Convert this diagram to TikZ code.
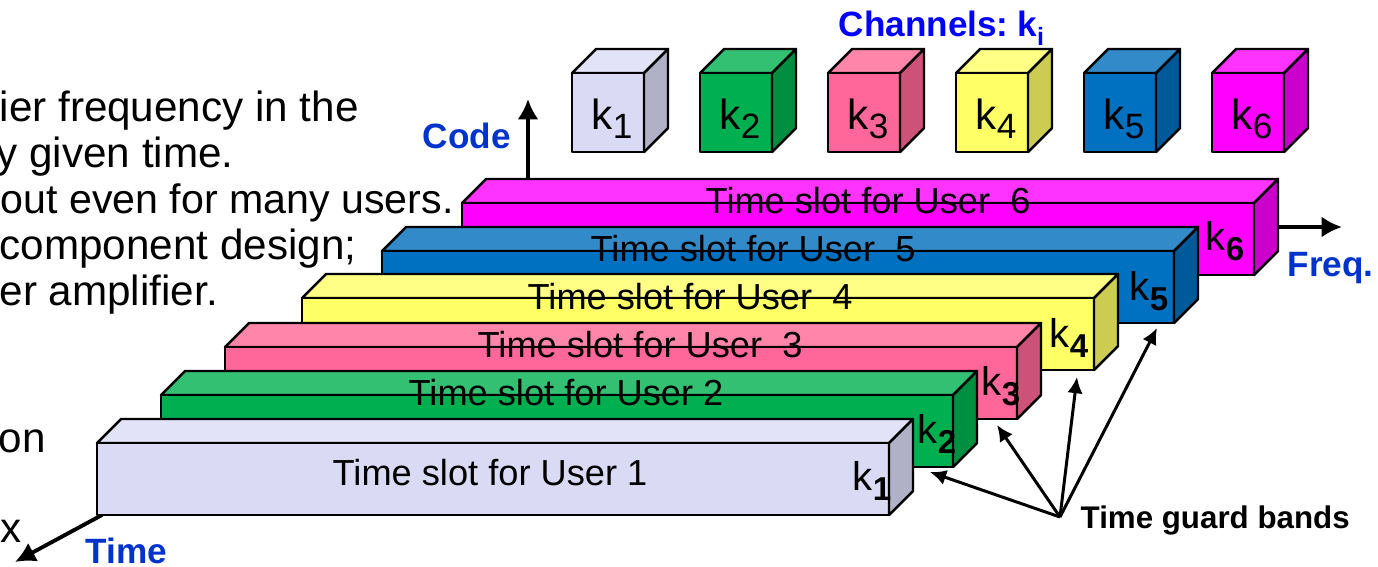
\documentclass[tikz,border=0pt]{standalone}
\usepackage{fontspec}
\setmainfont{Liberation Sans}
\usetikzlibrary{arrows.meta}

\definecolor{lavF}{RGB}{218,218,244}
\definecolor{lavT}{RGB}{226,226,248}
\definecolor{lavR}{RGB}{176,176,198}
\definecolor{grnF}{RGB}{0,176,80}
\definecolor{grnT}{RGB}{51,192,114}
\definecolor{grnR}{RGB}{0,142,64}
\definecolor{pnkF}{RGB}{255,102,153}
\definecolor{pnkT}{RGB}{255,133,170}
\definecolor{pnkR}{RGB}{204,82,122}
\definecolor{ylwF}{RGB}{255,255,102}
\definecolor{ylwT}{RGB}{255,255,133}
\definecolor{ylwR}{RGB}{204,204,82}
\definecolor{bluF}{RGB}{0,112,192}
\definecolor{bluT}{RGB}{51,138,200}
\definecolor{bluR}{RGB}{0,90,154}
\definecolor{magF}{RGB}{255,0,255}
\definecolor{magT}{RGB}{255,51,255}
\definecolor{magR}{RGB}{204,0,204}
\definecolor{axisblue}{RGB}{0,51,204}
\definecolor{chanblue}{RGB}{0,0,255}

\newcommand{\kcube}[1]{k\raisebox{-2.7pt}{\fontsize{10pt}{10pt}\selectfont #1}}
\newcommand{\kbar}[1]{k\raisebox{-3pt}{\fontsize{9.4pt}{10pt}\selectfont\bfseries #1}}

\begin{document}
\begin{tikzpicture}[x=0.01cm, y=-0.01cm,
    face/.style={draw=black, line width=0.7pt, line join=round},
    side/.style={anchor=base west, inner sep=0pt, font=\fontsize{12pt}{14pt}\selectfont},
    slot/.style={anchor=base west, inner sep=0pt, font=\fontsize{10.3pt}{12pt}\selectfont},
    klab/.style={anchor=base west, inner sep=0pt, font=\fontsize{11.4pt}{13pt}\selectfont},
    cubelab/.style={anchor=base west, inner sep=0pt, font=\fontsize{12pt}{13pt}\selectfont},
    axislab/.style={anchor=base west, inner sep=0pt, text=axisblue, font=\fontsize{10pt}{12pt}\selectfont\bfseries},
    axis/.style={line width=1.1pt, -{Latex[length=5.8pt,width=6pt]}},
    guard/.style={line width=0.85pt, -{Latex[length=4.6pt,width=4.4pt]}}]
    \useasboundingbox (0,0) rectangle (1378,566);
    \clip (0,0) rectangle (1378,566);

    \coordinate (C1) at (572,73);
    \coordinate (C2) at (700,73);
    \coordinate (C3) at (828,73);
    \coordinate (C4) at (956,73);
    \coordinate (C5) at (1084,73);
    \coordinate (C6) at (1212,73);
    \coordinate (B1) at (97,443);
    \coordinate (B2) at (161,395);
    \coordinate (B3) at (225,347);
    \coordinate (B4) at (302,298);
    \coordinate (B5) at (382,251);
    \coordinate (B6) at (462,203);
    \coordinate (codefoot) at (528,178);
    \coordinate (codetip) at (528,99);
    \coordinate (freqfoot) at (1278,227);
    \coordinate (freqtip) at (1342,227);
    \coordinate (timefoot) at (102,515);
    \coordinate (timetip) at (15,562);
    \coordinate (G) at (1060,517);
    \coordinate (G1) at (930,472);
    \coordinate (G2) at (997,425);
    \coordinate (G3) at (1077,377);
    \coordinate (G4) at (1157,328);

    % cut-off slide text on the left
    \node[side] (t1) at (-1,121) {ier frequency in the};
    \node[side] (t2) at (-4,167) {y given time.};
    \node[side, font=\fontsize{11.7pt}{14pt}\selectfont] (t3) at (0,213) {out even for many users.};
    \node[side] (t4) at (-1,259) {component design;};
    \node[side] (t5) at (-1,305) {er amplifier.};
    \node[side] (t6) at (-2,452) {on};
    \node[side] (t7) at (0,542) {x};

    % channel cubes
    \node[anchor=base west, inner sep=0pt, text=chanblue, font=\fontsize{10pt}{12pt}\selectfont\bfseries] (chan) at (838,36) {Channels:\hspace{0.25em}k\raisebox{-2.6pt}{\fontsize{7.1pt}{8pt}\selectfont i}};

    \draw[face, fill=lavT] (C1) -- ++(24,-24) -- ++(72,0) -- ++(-24,24) -- cycle;
    \draw[face, fill=lavF] (C1) rectangle ++(72,79);
    \draw[face, fill=lavR] (C1) ++(72,0) -- ++(24,-24) -- ++(0,79) -- ++(-24,24) -- cycle;
    \node[cubelab] (kc1) at (591,129) {\kcube{1}};

    \draw[face, fill=grnT] (C2) -- ++(24,-24) -- ++(72,0) -- ++(-24,24) -- cycle;
    \draw[face, fill=grnF] (C2) rectangle ++(72,79);
    \draw[face, fill=grnR] (C2) ++(72,0) -- ++(24,-24) -- ++(0,79) -- ++(-24,24) -- cycle;
    \node[cubelab] (kc2) at (719,129) {\kcube{2}};

    \draw[face, fill=pnkT] (C3) -- ++(24,-24) -- ++(72,0) -- ++(-24,24) -- cycle;
    \draw[face, fill=pnkF] (C3) rectangle ++(72,79);
    \draw[face, fill=pnkR] (C3) ++(72,0) -- ++(24,-24) -- ++(0,79) -- ++(-24,24) -- cycle;
    \node[cubelab] (kc3) at (847,129) {\kcube{3}};

    \draw[face, fill=ylwT] (C4) -- ++(24,-24) -- ++(72,0) -- ++(-24,24) -- cycle;
    \draw[face, fill=ylwF] (C4) rectangle ++(72,79);
    \draw[face, fill=ylwR] (C4) ++(72,0) -- ++(24,-24) -- ++(0,79) -- ++(-24,24) -- cycle;
    \node[cubelab] (kc4) at (975,129) {\kcube{4}};

    \draw[face, fill=bluT] (C5) -- ++(24,-24) -- ++(72,0) -- ++(-24,24) -- cycle;
    \draw[face, fill=bluF] (C5) rectangle ++(72,79);
    \draw[face, fill=bluR] (C5) ++(72,0) -- ++(24,-24) -- ++(0,79) -- ++(-24,24) -- cycle;
    \node[cubelab] (kc5) at (1103,129) {\kcube{5}};

    \draw[face, fill=magT] (C6) -- ++(24,-24) -- ++(72,0) -- ++(-24,24) -- cycle;
    \draw[face, fill=magF] (C6) rectangle ++(72,79);
    \draw[face, fill=magR] (C6) ++(72,0) -- ++(24,-24) -- ++(0,79) -- ++(-24,24) -- cycle;
    \node[cubelab] (kc6) at (1231,129) {\kcube{6}};

    % axes
    \draw[axis] (codefoot) -- (codetip);
    \node[axislab] (code) at (422,148) {Code};
    \draw[axis] (freqfoot) -- (freqtip);
    \node[axislab] (freq) at (1287,276) {Freq.};
    \draw[axis] (timefoot) -- (timetip);
    \node[axislab] (time) at (85,563) {Time};

    % time slots, back to front
    \draw[face, fill=magT] (B6) -- ++(24,-24) -- ++(792,0) -- ++(-24,24) -- cycle;
    \draw[face, fill=magF] (B6) rectangle ++(792,72);
    \draw[face, fill=magR] (B6) ++(792,0) -- ++(24,-24) -- ++(0,72) -- ++(-24,24) -- cycle;
    \node[slot] (s6) at (705,213) {Time slot for User\ \ 6};
    \node[klab] (kb6) at (1205,250) {\kbar{6}};

    \draw[face, fill=bluT] (B5) -- ++(24,-24) -- ++(792,0) -- ++(-24,24) -- cycle;
    \draw[face, fill=bluF] (B5) rectangle ++(792,72);
    \draw[face, fill=bluR] (B5) ++(792,0) -- ++(24,-24) -- ++(0,72) -- ++(-24,24) -- cycle;
    \node[slot] (s5) at (590,261) {Time slot for User\ \ 5};
    \node[klab] (kb5) at (1129,300) {\kbar{5}};

    \draw[face, fill=ylwT] (B4) -- ++(24,-24) -- ++(792,0) -- ++(-24,24) -- cycle;
    \draw[face, fill=ylwF] (B4) rectangle ++(792,72);
    \draw[face, fill=ylwR] (B4) ++(792,0) -- ++(24,-24) -- ++(0,72) -- ++(-24,24) -- cycle;
    \node[slot] (s4) at (527,309) {Time slot for User\ \ 4};
    \node[klab] (kb4) at (1049,347) {\kbar{4}};

    \draw[face, fill=pnkT] (B3) -- ++(24,-24) -- ++(792,0) -- ++(-24,24) -- cycle;
    \draw[face, fill=pnkF] (B3) rectangle ++(792,72);
    \draw[face, fill=pnkR] (B3) ++(792,0) -- ++(24,-24) -- ++(0,72) -- ++(-24,24) -- cycle;
    \node[slot] (s3) at (477,357) {Time slot for User\ \ 3};
    \node[klab] (kb3) at (981,395) {\kbar{3}};

    \draw[face, fill=grnT] (B2) -- ++(24,-24) -- ++(792,0) -- ++(-24,24) -- cycle;
    \draw[face, fill=grnF] (B2) rectangle ++(792,72);
    \draw[face, fill=grnR] (B2) ++(792,0) -- ++(24,-24) -- ++(0,72) -- ++(-24,24) -- cycle;
    \node[slot] (s2) at (408,405) {Time slot for User 2};
    \node[klab] (kb2) at (917,443) {\kbar{2}};

    \draw[face, fill=lavT] (B1) -- ++(24,-24) -- ++(792,0) -- ++(-24,24) -- cycle;
    \draw[face, fill=lavF] (B1) rectangle ++(792,72);
    \draw[face, fill=lavR] (B1) ++(792,0) -- ++(24,-24) -- ++(0,72) -- ++(-24,24) -- cycle;
    \node[slot] (s1) at (332,485) {Time slot for User 1};
    \node[klab] (kb1) at (852,490) {\kbar{1}};

    % guard bands
    \node[anchor=base west, inner sep=0pt, font=\fontsize{8.9pt}{10pt}\selectfont\bfseries] (guard) at (1080,528) {Time guard bands};
    \draw[guard] (G) -- (G1);
    \draw[guard] (G) -- (G2);
    \draw[guard] (G) -- (G3);
    \draw[guard] (G) -- (G4);
\end{tikzpicture}
\end{document}
